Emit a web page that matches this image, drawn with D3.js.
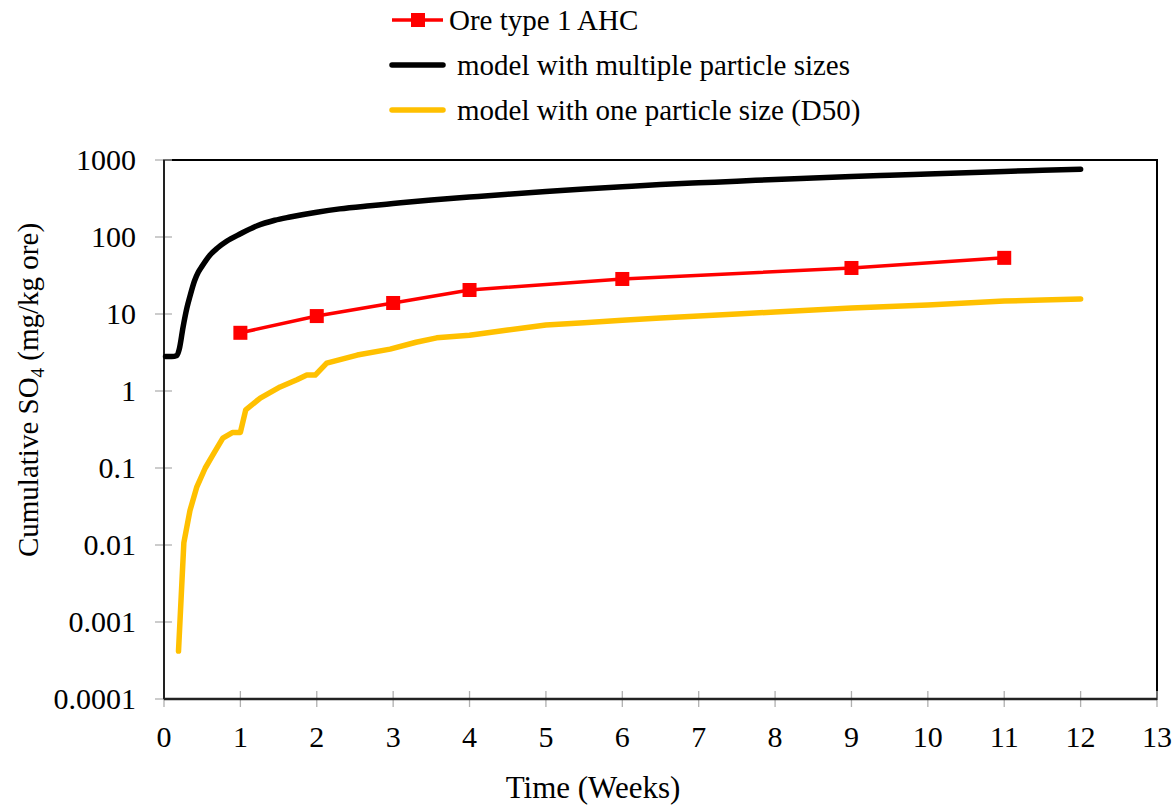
<!DOCTYPE html>
<html><head><meta charset="utf-8">
<style>body{margin:0;background:#fff}svg{display:block}</style>
<script src="https://cdn.jsdelivr.net/npm/d3@7"></script>
</head><body>
<script>
const xTicks=[0,1,2,3,4,5,6,7,8,9,10,11,12,13];
const yTicks=[0.0001,0.001,0.01,0.1,1,10,100,1000];
const yTickLabels=["0.0001","0.001","0.01","0.1","1","10","100","1000"];
const seriesNames=["Ore type 1 AHC","model with multiple particle sizes","model with one particle size (D50)"];
// Measured: Ore type 1 AHC
const oreT=[1,2,3,4,6,9,11];
const oreV=[5.7,9.4,13.9,20.5,28.5,39.6,53.6];
// Model with multiple particle sizes
const multiT=[0.02,0.1,0.17,0.2,0.25,0.3,0.34,0.4,0.45,0.5,0.6,0.7,0.82,1.0,1.22,1.45,1.65,2.0,2.3,2.7,3.0,3.5,4,4.5,5,5.5,6,6.5,7,7.5,8,8.5,9,9.5,10,10.5,11,11.5,12];
const multiV=[2.8,2.8,2.9,3.5,6.8,12,17,27,35,42,58,72,88,110,140,165,182,210,232,255,272,302,330,360,390,420,450,480,505,530,560,585,610,635,660,685,710,735,760];
// Model with one particle size (D50)
const oneT=[0.19,0.26,0.34,0.43,0.54,0.64,0.77,0.9,1.0,1.07,1.26,1.52,1.74,1.87,1.98,2.13,2.53,2.96,3.3,3.57,4,4.5,5,5.5,6,6.5,7,7.5,8,8.5,9,9.5,10,10.5,11,11.5,12];
const oneV=[0.00042,0.0107,0.028,0.057,0.1,0.148,0.245,0.29,0.29,0.57,0.81,1.13,1.4,1.61,1.61,2.3,2.93,3.5,4.3,4.9,5.3,6.2,7.2,7.7,8.3,8.9,9.4,10.0,10.6,11.3,12,12.5,13.1,13.9,14.7,15.2,15.7];

const FONT="Liberation Serif";
const W=1174,H=807;
const svg=d3.select("body").append("svg").attr("width",W).attr("height",H);
const L=164,R=1157,T=160,B=699;
const x=d3.scaleLinear().domain([0,13]).range([L,R]);
const y=d3.scaleLog().domain([0.0001,1000]).range([B,T]);
const FS=30;

// frame
svg.append("rect").attr("x",L).attr("y",T).attr("width",R-L).attr("height",B-T)
  .attr("fill","none").attr("stroke","#000").attr("stroke-width",2);

// x ticks (cross)
const xg=svg.append("g");
xg.selectAll("line").data(xTicks).join("line")
  .attr("x1",d=>x(d)).attr("x2",d=>x(d)).attr("y1",B-8).attr("y2",B+8)
  .attr("stroke","#b0b0b0").attr("stroke-width",1.3);
xg.selectAll("text").data(xTicks).join("text").style("font-family",FONT)
  .attr("x",d=>x(d)).attr("y",B+48).attr("text-anchor","middle").attr("font-size",FS).text(d=>d);
// y ticks
const yg=svg.append("g");
yg.selectAll("line").data(yTicks).join("line")
  .attr("x1",L-9).attr("x2",L+8).attr("y1",d=>y(d)).attr("y2",d=>y(d))
  .attr("stroke","#b0b0b0").attr("stroke-width",1.3);
yg.selectAll("text").data(yTicks).join("text").style("font-family",FONT)
  .attr("x",L-28).attr("y",d=>y(d)+10).attr("text-anchor","end").attr("font-size",FS).text((d,i)=>yTickLabels[i]);
// axis lines
svg.append("line").attr("x1",L).attr("x2",R).attr("y1",B).attr("y2",B).attr("stroke","#222").attr("stroke-width",2.5);
svg.append("line").attr("x1",L).attr("x2",L).attr("y1",T).attr("y2",B).attr("stroke","#222").attr("stroke-width",2);

// axis titles
svg.append("text").style("font-family",FONT).attr("x",593).attr("y",798).attr("text-anchor","middle").attr("font-size",31).text("Time (Weeks)");
const yl=svg.append("text").style("font-family",FONT).attr("transform","translate(38,390) rotate(-90)").attr("text-anchor","middle").attr("font-size",29);
yl.append("tspan").text("Cumulative SO");
yl.append("tspan").attr("font-size",19).attr("dy",6).text("4");
yl.append("tspan").attr("dy",-6).text(" (mg/kg ore)");

const line=d3.line().x(d=>x(d[0])).y(d=>y(d[1]));
svg.append("path").datum(oneT.map((t,i)=>[t,oneV[i]])).attr("d",line)
  .attr("fill","none").attr("stroke","#ffc000").attr("stroke-width",5.5).attr("stroke-linejoin","round").attr("stroke-linecap","round");
svg.append("path").datum(multiT.map((t,i)=>[t,multiV[i]])).attr("d",d3.line().curve(d3.curveMonotoneX).x(d=>x(d[0])).y(d=>y(d[1])))
  .attr("fill","none").attr("stroke","#000").attr("stroke-width",5.5).attr("stroke-linejoin","round").attr("stroke-linecap","round");
const ore=oreT.map((t,i)=>[t,oreV[i]]);
svg.append("path").datum(ore).attr("d",line)
  .attr("fill","none").attr("stroke","#ff0000").attr("stroke-width",3.5);
svg.selectAll("rect.m").data(ore).join("rect").attr("class","m")
  .attr("x",d=>x(d[0])-7).attr("y",d=>y(d[1])-7).attr("width",14).attr("height",14).attr("fill","#ff0000");

// legend
const lg=svg.append("g");
const rows=[20,65,110];
const colors=["#ff0000","#000","#ffc000"];
rows.forEach((ry,i)=>{
  lg.append("line").attr("x1",392).attr("x2",443).attr("y1",ry).attr("y2",ry)
    .attr("stroke",colors[i]).attr("stroke-width",i==0?3.5:5.5).attr("stroke-linecap",i==0?"butt":"round");
  if(i==0) lg.append("rect").attr("x",411).attr("y",ry-7).attr("width",14).attr("height",14).attr("fill","#ff0000");
  lg.append("text").style("font-family",FONT).attr("x",i==0?449:457).attr("y",ry+10).attr("font-size",29).text(seriesNames[i]);
});
</script>
</body></html>
